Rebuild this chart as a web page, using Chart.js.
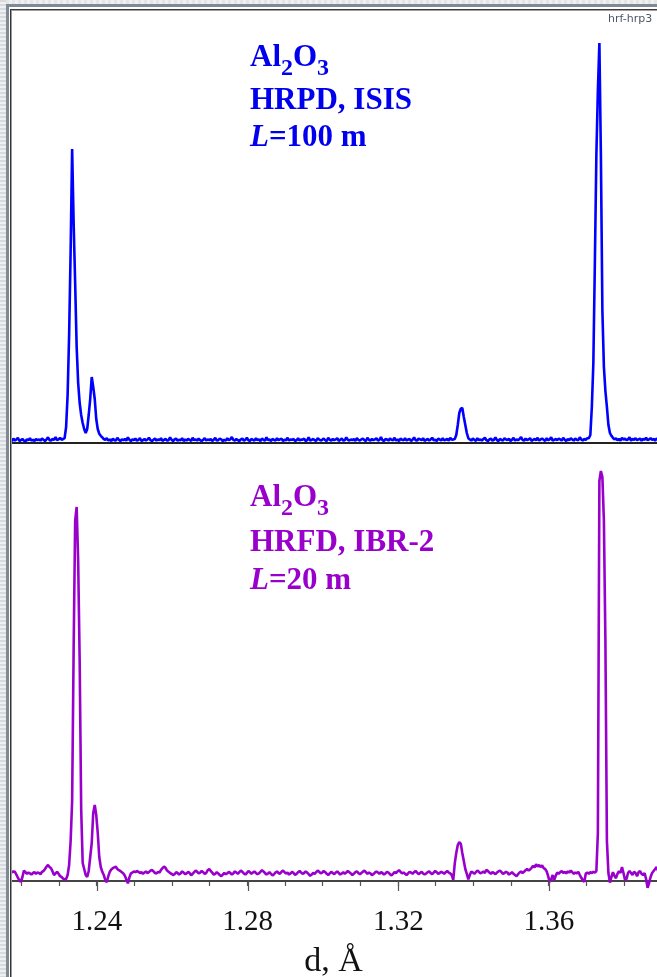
<!DOCTYPE html>
<html>
<head>
<meta charset="utf-8">
<title>Al2O3 HRPD / HRFD</title>
<script src="https://cdn.jsdelivr.net/npm/chart.js@4.4.0/dist/chart.umd.min.js"></script>
<style>
  html, body { margin: 0; padding: 0; background: #fff; overflow: hidden; }
  body { width: 657px; height: 977px; position: relative; }
  canvas { position: absolute; display: block; }
  #topChart { left: 10px; top: 11px; }
  #bottomChart { left: 10px; top: 443px; }
  .frame { position: absolute; z-index: 2; }
  .frame-top-light { left: 0; top: 0; width: 657px; height: 4px;
    background: repeating-linear-gradient(90deg, #e3e5e7 0 3px, #eff0f1 3px 6px); }
  .frame-top-mid { left: 0; top: 4px; width: 657px; height: 3px; background: #7f8a95; }
  .frame-top-white { left: 0; top: 7px; width: 657px; height: 2px; background: #fff; }
  .frame-top-dark { left: 9px; top: 9px; width: 648px; height: 1px; background: #3a3a3a; }
  .frame-top-grey { left: 9px; top: 10px; width: 648px; height: 1px; background: #a0a0a0; }
  .frame-left-light { left: 0; top: 0; width: 6px; height: 977px;
    background: repeating-linear-gradient(180deg, #d8dbde 0 2px, #eef0f1 2px 4px); }
  .frame-left-mid { left: 6px; top: 4px; width: 3px; height: 973px; background: #7f8a95; }
  .frame-left-white { left: 9px; top: 9px; width: 1px; height: 968px; background: #fff; }
  .frame-left-dark { left: 10px; top: 9px; width: 1px; height: 968px; background: #333; }
  .frame-left-grey { left: 11px; top: 10px; width: 1px; height: 967px; background: #9a9a9a; }
  #tag { position: absolute; left: 608px; top: 12px; z-index: 3;
    font: 11px "DejaVu Sans", sans-serif; color: #4b5866; }
</style>
</head>
<body>
<div class="frame frame-top-light"></div>
<div class="frame frame-top-mid"></div>
<div class="frame frame-top-white"></div>
<div class="frame frame-top-dark"></div>
<div class="frame frame-top-grey"></div>
<div class="frame frame-left-light"></div>
<div class="frame frame-left-mid"></div>
<div class="frame frame-left-white"></div>
<div class="frame frame-left-dark"></div>
<div class="frame frame-left-grey"></div>
<div id="tag">hrf-hrp3</div>
<canvas id="topChart" width="647" height="434"></canvas>
<canvas id="bottomChart" width="647" height="560"></canvas>
<script>
// d-spacing grid of both patterns (Å): first channel and channel width
const D_START = 1.217;
const D_STEP = 0.0004;
// visible d window
const D_MIN = 1.2169;
const D_MAX = 1.3887;

const TICK_VALUES = [1.22, 1.23, 1.24, 1.25, 1.26, 1.27, 1.28, 1.29, 1.30,
  1.31, 1.32, 1.33, 1.34, 1.35, 1.36, 1.37, 1.38];
const TICK_LABELS = [1.24, 1.28, 1.32, 1.36];

// HRPD (ISIS, L = 100 m), counts per channel, arbitrary units
const HRPD_COUNTS = [
  0.8, 0.5, 1.1, 0.6, 0.9, 1.3, 0.5, 0.7, 1.0, 0.6,
  0.4, 0.9, 0.7, 1.2, 0.6, 0.8, 0.5, 1.0, 0.7, 0.9,
  0.6, 1.1, 0.8, 0.5, 0.9, 1.4, 0.7, 0.6, 1.0, 0.8,
  1.5, 0.7, 0.9, 1.3, 0.8, 1.0,
  1.2, 4, 12, 27, 48, 73.5, 55, 40, 24, 15,
  10, 7, 5, 3.5, 2.5, 3.5, 7, 11, 16.5, 14,
  11, 6, 3.5, 2.3, 1.8, 1.4, 1.0,
  0.8, 1.2, 0.6, 0.9, 0.5, 1.1, 0.7, 0.6, 1.3, 0.8,
  0.5, 0.9, 0.7, 1.0, 0.6, 1.4, 0.8, 0.5, 0.9, 0.7,
  1.1, 0.6, 0.8, 1.2, 0.5, 0.7, 1.0, 0.6, 0.9, 1.3,
  0.7, 0.5, 0.8, 1.1, 0.6, 0.9, 0.7, 1.2, 0.5, 0.8,
  1.0, 0.6, 0.7, 1.4, 0.8, 0.5, 0.9, 1.1, 0.6, 0.8,
  0.7, 1.2, 0.5, 0.9, 0.6, 1.0, 0.8, 0.5, 1.3, 0.7,
  0.9, 0.6, 1.1, 0.7, 0.5, 0.8, 1.2, 0.6, 0.9, 0.7,
  1.0, 0.5, 0.8, 1.3, 0.6, 0.7, 1.1, 0.9, 0.5, 0.8,
  0.6, 1.2, 0.7, 0.9, 1.5, 0.8, 0.6, 1.0, 0.7, 0.5,
  0.9, 1.1, 0.6, 0.8, 1.3, 0.7, 0.5, 1.0, 0.8, 0.6,
  1.2, 0.7, 0.9, 0.5, 1.1, 0.8, 0.6, 1.4, 0.7, 0.9,
  0.5, 1.0, 0.8, 0.6, 1.2, 0.7, 0.9, 1.1, 0.5, 0.8,
  0.7, 1.3, 0.6, 0.9, 0.8, 1.0, 0.5, 0.7, 1.2, 0.6,
  0.9, 0.8, 1.1, 0.5, 0.7, 1.4, 0.6, 0.8, 1.0, 0.7,
  0.5, 1.2, 0.9, 0.6, 0.8, 1.1, 0.7, 0.5, 1.3, 0.8,
  0.6, 1.0, 0.7, 0.9, 1.2, 0.5, 0.8, 1.1, 0.6, 0.7,
  1.4, 0.8, 0.6, 0.9, 0.7, 1.0, 0.5, 1.2, 0.8, 0.6,
  0.9, 1.1, 0.7, 0.5, 1.3, 0.8, 0.6, 1.0, 0.7, 0.9,
  1.2, 0.6, 0.8, 1.5, 0.7, 0.5, 1.0, 0.9, 0.6, 1.1,
  0.8, 0.7, 1.3, 0.6, 0.9, 0.5, 1.1, 0.8, 0.7, 1.2,
  0.6, 0.9, 1.0, 0.5, 0.8, 1.4, 0.7, 0.6, 1.1, 0.9,
  0.7, 1.2, 0.5, 0.8, 1.0, 0.6, 0.9, 1.3, 0.7, 0.8,
  0.5, 1.1, 0.9, 0.6, 1.2, 0.7, 0.8, 1.0, 0.6, 1.3,
  0.8, 0.9,
  1.0, 2.0, 4.5, 7.5, 8.6, 8.75, 6.5, 4.5, 2.5, 1.2,
  0.9, 0.6, 1.1, 0.8, 0.5, 1.2, 0.7, 0.9, 0.6, 1.0,
  1.3, 0.7, 0.5, 0.9, 1.1, 0.6, 0.8, 1.4, 0.7, 0.5,
  1.0, 0.8, 0.6, 1.2, 0.9, 0.7, 1.1, 0.5, 0.8, 1.3,
  0.6, 0.9, 0.7, 1.0, 1.5, 0.8, 0.6, 1.1, 0.7, 0.9,
  1.2, 0.5, 0.8, 1.0, 0.7, 1.3, 0.6, 0.9, 1.1, 0.8,
  0.5, 1.2, 0.7, 0.9, 1.4, 0.6, 0.8, 1.0, 0.7, 1.1,
  0.9, 0.6, 1.3, 0.8, 0.5, 1.0, 0.7, 1.2, 0.9, 0.6,
  1.1, 0.8, 0.7, 1.4, 0.9, 0.6, 1.0, 0.8, 1.2,
  1.2, 2, 9, 20, 45, 72, 88, 100, 72, 33,
  19, 13, 9, 4.5, 2.5, 1.8, 1.3,
  0.9, 1.2, 0.7, 1.0, 0.6, 1.3, 0.8, 1.1, 0.7, 0.9,
  1.4, 0.6, 1.0, 0.8, 1.2, 0.7, 0.9, 1.1, 0.6, 1.0,
  0.8, 1.3, 0.7, 0.9, 1.2, 0.8, 1.0, 0.6, 1.1, 0.9
];

// HRFD (IBR-2, L = 20 m), same channels
const HRFD_COUNTS = [
  1.9, 2.2, 2.4, 2.3, 1.6, 0.8, 0.2, -0.2, 1.0, 2.6,
  2.2, 1.8, 2.1, 1.9, 1.6, 2.0, 2.2, 1.8, 2.1, 2.0,
  1.7, 2.3, 2.5, 3.0, 3.6, 4.0, 3.5, 3.2, 2.4, 1.5,
  1.9, 2.3, 1.8, 1.2, 1.0, 0.6, 0.4,
  0.5, 1.5, 4, 10, 20, 58, 90, 93.5, 80, 55,
  18, 4.5, 3, 1.5, 1, 2.5, 6, 9.5, 17, 19,
  16.5, 12, 6, 3.5, 2.3, 1.5, 0.3, -0.3,
  1.2, 2.3, 2.9, 3.2, 3.4, 3.6, 3.0, 2.7, 2.5, 2.2,
  1.9, 1.3, 0.4, -0.6, 0.9, 1.9, 2.1, 2.4, 2.2, 2.5,
  2.3, 2.0, 2.2, 1.8, 2.1, 2.4, 2.0, 2.2, 2.6, 2.75,
  2.4, 2.0, 1.9, 2.3, 2.1, 2.8, 3.2, 3.6, 3.3, 2.6,
  2.3, 2.0, 1.8, 1.5, 1.7, 2.2, 2.0, 1.6, 1.9, 2.4,
  2.1, 1.7, 1.9, 2.3, 2.0, 1.4, 1.8, 2.2, 2.6, 2.3,
  1.9, 2.1, 2.5, 2.2, 1.8, 2.0, 2.7, 3.0, 2.5, 2.1,
  1.6, 1.8, 2.2, 1.9, 1.5, 1.2, 1.6, 2.0, 1.7, 1.9,
  2.3, 2.0, 1.6, 1.9, 2.4, 2.1, 1.8, 2.2, 2.6, 2.3,
  1.9, 1.6, 2.0, 2.5, 2.2, 1.8, 2.1, 2.4, 2.0, 1.7,
  1.9, 2.3, 2.7, 2.4, 2.0, 1.6, 1.9, 2.2, 1.8, 1.4,
  1.7, 2.1, 2.4, 2.0, 1.8, 2.3, 2.6, 2.2, 1.9, 2.1,
  1.6, 1.9, 2.3, 2.0, 1.5, 1.8, 2.2, 2.5, 2.1, 1.8,
  2.0, 2.4, 2.1, 1.7, 1.3, 1.6, 2.0, 1.8, 2.2, 2.6,
  2.3, 1.9, 2.1, 2.5, 2.2, 1.8, 1.5, 1.9, 2.3, 2.0,
  1.7, 2.1, 2.4, 2.0, 1.6, 1.9, 2.2, 1.8, 2.1, 2.5,
  2.2, 1.9, 1.5, 1.8, 2.2, 2.4, 2.0, 1.7, 2.0, 2.3,
  2.6, 2.2, 1.8, 2.1, 1.9, 1.5, 1.7, 2.1, 2.4, 2.1,
  1.8, 2.2, 2.0, 1.6, 1.9, 2.3, 2.1, 1.7, 1.4, 1.8,
  2.2, 2.0, 2.4, 2.7, 2.3, 1.9, 2.1, 1.8, 1.5, 1.9,
  2.3, 2.1, 1.8, 2.2, 2.5, 2.1, 1.7, 2.0, 2.3, 1.9,
  1.6, 1.9, 2.2, 2.4, 2.0, 1.7, 2.1, 2.5, 2.2, 1.8,
  2.0, 2.3, 2.1, 1.8, 2.2, 2.5, 2.1, 1.9,
  1.5, 0.3, 4.4, 7.0, 9.0, 9.7, 9.3, 7.0, 5.0, 3.0,
  1.8, 0.4,
  1.5, 2.4, 2.1, 1.8, 2.2, 2.6, 2.3, 1.9, 2.1, 2.4,
  2.0, 2.8, 2.5, 2.1, 1.8, 2.2, 2.0, 1.7, 2.1, 2.4,
  2.6, 2.2, 1.8, 2.0, 2.3, 2.1, 1.6, 1.9, 2.2, 1.8,
  1.5, 1.2, 1.7, 2.1, 2.4, 2.0, 2.3, 2.7, 3.0, 2.6,
  2.9, 3.3, 3.8, 3.4, 4.2, 3.6, 4.0, 3.5, 3.9, 3.2,
  3.0, 2.4, 1.2, -0.2, 0.4, 1.5, 0.2, 1.3, 2.1, 1.8,
  2.2, 2.5, 2.0, 2.3, 1.9, 2.4, 2.1, 2.6, 2.2, 1.8,
  2.1, 1.9, 2.3, 1.5, 0.8, 0.2, -0.2, 1.9, 2.1, 1.8,
  2.2, 2.0, 2.3, 2.1, 2.5,
  12, 100, 102.5, 101, 90, 60, 10, 2, -0.4,
  1.0, 2.2, 1.3, 0.7, 1.8, 2.5, 2.0, 3.5, 2.0, 0.3,
  0.5, 2.0, 2.5, 2.0, 1.5, 2.3, 2.0, 1.2, 2.2, 2.5,
  1.8, 1.5, 2.0, 0.5, -1.7, -0.5, 1.0, 2.0, 2.5, 3.0,
  3.5, 2.5
];

// caption lines: [text, style]
const HRPD_CAPTION = [
  [['Al', ''], ['2', 'sub'], ['O', ''], ['3', 'sub']],
  [['HRPD, ISIS', '']],
  [['L', 'italic'], ['=100 m', '']]
];
const HRFD_CAPTION = [
  [['Al', ''], ['2', 'sub'], ['O', ''], ['3', 'sub']],
  [['HRFD, IBR-2', '']],
  [['L', 'italic'], ['=20 m', '']]
];

const BLUE = '#0000ff';
const PURPLE = '#9900cc';
const SERIF = '"Liberation Serif", "Times New Roman", serif';

function toPoints(counts) {
  return counts.map(function(c, i) {
    return { x: +(D_START + i * D_STEP).toFixed(4), y: c };
  });
}

function captionPlugin(id, lines, color, left, baselines) {
  return {
    id: id,
    afterDraw(chart) {
      const ctx = chart.ctx;
      ctx.save();
      ctx.fillStyle = color;
      ctx.textBaseline = 'alphabetic';
      ctx.textAlign = 'left';
      lines.forEach(function(line, n) {
        let x = left;
        line.forEach(function(part) {
          let dy = 0;
          if (part[1] === 'sub') {
            ctx.font = 'bold 24px ' + SERIF;
            dy = 9;
          } else if (part[1] === 'italic') {
            ctx.font = 'italic bold 31px ' + SERIF;
          } else {
            ctx.font = 'bold 31px ' + SERIF;
          }
          ctx.fillText(part[0], x, baselines[n] + dy);
          x += ctx.measureText(part[0]).width;
        });
      });
      ctx.restore();
    }
  };
}

// long marks under the labelled ticks
const majorTicks = {
  id: 'majorTicks',
  afterDraw(chart) {
    const scale = chart.scales.x;
    const ctx = chart.ctx;
    ctx.save();
    ctx.strokeStyle = '#555';
    ctx.lineWidth = 1.2;
    TICK_LABELS.forEach(function(v) {
      const px = Math.round(scale.getPixelForValue(v)) + 0.5;
      ctx.beginPath();
      ctx.moveTo(px, scale.top);
      ctx.lineTo(px, scale.top + 10);
      ctx.stroke();
    });
    ctx.restore();
  }
};

function lineDataset(label, counts, color, clip) {
  return {
    label: label,
    data: toPoints(counts),
    borderColor: color,
    borderWidth: 2.6,
    borderJoinStyle: 'bevel',
    pointRadius: 0,
    tension: 0,
    clip: clip
  };
}

// keep the plot box flush with the canvas sides
function noSidePadding(axis) {
  axis.paddingLeft = 0;
  axis.paddingRight = 0;
}

const topChart = new Chart(document.getElementById('topChart'), {
  type: 'line',
  data: { datasets: [lineDataset('HRPD, ISIS', HRPD_COUNTS, BLUE, 0)] },
  options: {
    responsive: false,
    animation: false,
    events: [],
    layout: { padding: { left: 0, right: 0, top: 0, bottom: 2 }, autoPadding: false },
    plugins: { legend: { display: false }, tooltip: { enabled: false } },
    scales: {
      x: {
        type: 'linear', min: D_MIN, max: D_MAX,
        afterFit: noSidePadding,
        ticks: { display: false },
        grid: { display: true, drawOnChartArea: false, drawTicks: false },
        border: { display: true, color: '#222', width: 2 }
      },
      y: { display: false, min: 0, max: 108 }
    }
  },
  plugins: [captionPlugin('hrpdCaption', HRPD_CAPTION, '#0000ee', 240, [55, 98, 135])]
});

const bottomChart = new Chart(document.getElementById('bottomChart'), {
  type: 'line',
  data: { datasets: [lineDataset('HRFD, IBR-2', HRFD_COUNTS, PURPLE,
    { left: 0, top: 0, right: 0, bottom: 10 })] },
  options: {
    responsive: false,
    animation: false,
    events: [],
    layout: { padding: 0, autoPadding: false },
    plugins: { legend: { display: false }, tooltip: { enabled: false } },
    scales: {
      x: {
        type: 'linear', min: D_MIN, max: D_MAX,
        afterBuildTicks(axis) {
          axis.ticks = TICK_VALUES.map(function(v) { return { value: v }; });
        },
        afterFit(axis) {
          noSidePadding(axis);
          axis.height = 122;
        },
        ticks: {
          autoSkip: false,
          maxRotation: 0,
          padding: 18.75,
          color: '#111',
          font: { family: SERIF, size: 29 },
          callback(value) {
            const v = Math.round(value * 100) / 100;
            return TICK_LABELS.indexOf(v) >= 0 ? v.toFixed(2) : '';
          }
        },
        grid: { display: true, drawOnChartArea: false, drawTicks: true,
          tickLength: 5, tickColor: '#555', tickWidth: 1.2 },
        border: { display: true, color: '#444', width: 2 },
        title: {
          display: true, text: 'd, Å', color: '#111',
          font: { family: SERIF, size: 34 },
          padding: { top: 1.65, bottom: 21 }
        }
      },
      y: { display: false, min: 0, max: 109.5 }
    }
  },
  plugins: [majorTicks, captionPlugin('hrfdCaption', HRFD_CAPTION, PURPLE, 240, [63, 108, 146])]
});
</script>
</body>
</html>
